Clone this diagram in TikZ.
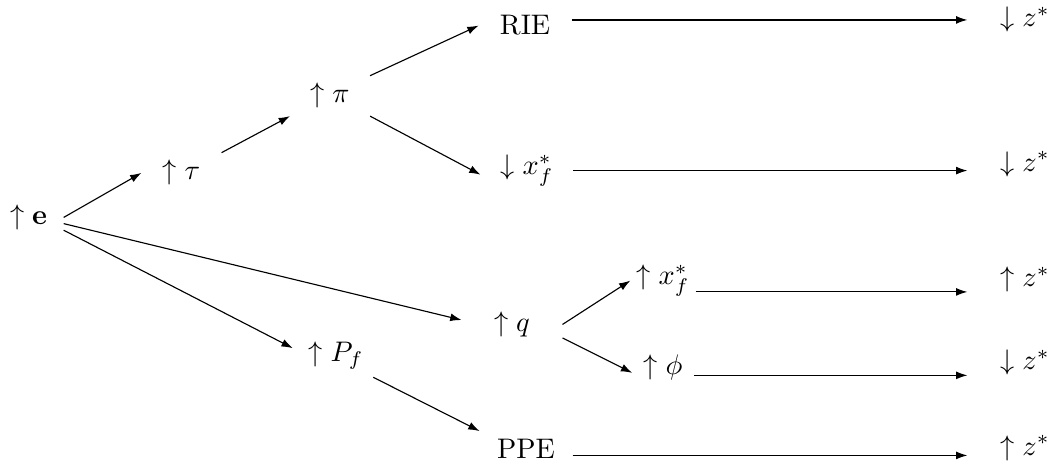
\documentclass[tikz,border=0pt]{standalone}
\usepackage{amsmath}
\usepackage{amssymb}
\usepackage{tikz}
\usetikzlibrary{arrows.meta,positioning,calc}
\tikzset{
  lbl/.style={anchor=base, inner xsep=2pt, inner ysep=2.5pt, minimum width=#1},
  lbl/.default=1cm,
  arr/.style={-{Latex[length=4pt,width=2.8pt]}, thin, draw=black}
}

\begin{document}
\begin{tikzpicture}
  \useasboundingbox (0,0) rectangle (13.09,5.862);
  % left part
  \node[lbl=0.86cm] (e) at (0.354,3.074) {$\uparrow \mathbf{e}$};
  \node[lbl=0.98cm] (tau) at (2.254,3.627) {$\uparrow \tau$};
  \node[lbl=0.98cm] (pi) at (4.099,4.583) {$\uparrow \pi$};
  \node[lbl=1.06cm] (pf) at (4.173,1.372) {$\uparrow P_f$};
  \node[lbl=1.24cm] (q) at (6.359,1.745) {$\uparrow q$};
  % middle column
  \node[lbl=1.14cm] (rie) at (6.521,5.428) {RIE};
  \node[lbl=1.14cm] (xfa) at (6.545,3.695) {$\downarrow x_f^*$};
  \node[lbl=1.14cm] (ppe) at (6.533,0.174) {PPE};
  \node[lbl=0.75cm] (xfb) at (8.234,2.329) {$\uparrow x_f^*$};
  \node[lbl=0.75cm] (phi) at (8.234,1.211) {$\uparrow \phi$};
  % right column
  \node[lbl=1.42cm] (za) at (12.731,5.527) {$\downarrow z^*$};
  \node[lbl=1.42cm] (zb) at (12.731,3.738) {$\downarrow z^*$};
  \node[lbl=1.42cm] (zc) at (12.731,2.304) {$\uparrow z^*$};
  \node[lbl=1.42cm] (zd) at (12.731,1.273) {$\downarrow z^*$};
  \node[lbl=1.42cm] (ze) at (12.731,0.211) {$\uparrow z^*$};
  % connectors
  \draw[arr] (e.east) -- (tau.west);
  \draw[arr] (e.-10) -- (q.175);
  \draw[arr] (e.-20) -- (pf.170);
  \draw[arr] (tau.north east) -- (pi.south west);
  \draw[arr] (pi.north east) -- (rie.west);
  \draw[arr] (pi.south east) -- (xfa.185);
  \draw[arr] (pf.-30) -- (ppe.north west);
  \draw[arr] (q.east) -- (xfb.west);
  \draw[arr] (q.-15) -- (phi.190);
  \draw[arr] ([yshift=2pt]rie.east) -- ([yshift=2pt]rie.east -| za.west);
  \draw[arr] (xfa.east) -- (xfa.east -| zb.west);
  \draw[arr] ([yshift=-4pt]xfb.east) -- ([yshift=-4pt]xfb.east -| zc.west);
  \draw[arr] ([yshift=-2.8pt]phi.east) -- ([yshift=-2.8pt]phi.east -| zd.west);
  \draw[arr] ([yshift=-2.5pt]ppe.east) -- ([yshift=-2.5pt]ppe.east -| ze.west);
\end{tikzpicture}
\end{document}
